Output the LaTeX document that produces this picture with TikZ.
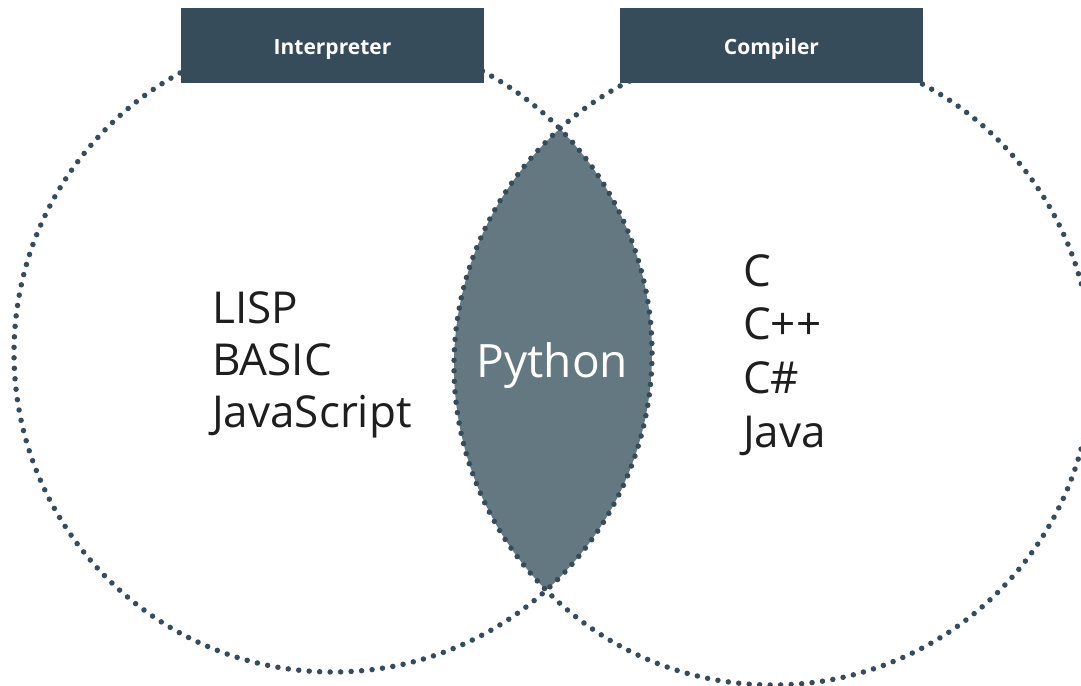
\documentclass[tikz,border=0pt]{standalone}
\usepackage{fontspec}
\setmainfont{Open Sans}
\definecolor{slate}{HTML}{374C5B}
\definecolor{lensfill}{HTML}{647882}
\definecolor{ink}{HTML}{1E1E1E}
% header label, set a little below the box centre
\newcommand{\tablabel}[1]{\raisebox{-4pt}[\height][\depth]{#1}}
\begin{document}
\begin{tikzpicture}[x=1pt,y=-1pt,
  ring/.style={draw=slate,line width=5.5pt,line cap=round,dash pattern=on 0pt off 10.5pt},
  tab/.style={fill=slate,minimum width=303pt,minimum height=75pt,inner sep=0pt,
    text=white,font=\fontsize{21}{24}\selectfont\bfseries},
  item/.style={anchor=base west,inner sep=0pt,text=ink,font=\fontsize{44}{52}\selectfont}]
  \useasboundingbox (0,0) rectangle (1081,685);
  % the two sets
  \coordinate (cl) at (333,353);
  \coordinate (cr) at (773,366);
  % shared region
  \begin{scope}
    \clip (cl) circle[radius=319];
    \fill[lensfill] (cr) circle[radius=319];
  \end{scope}
  \draw[ring] (cl) circle[radius=319];
  \draw[ring] (cr) circle[radius=319];
  % headers
  \node[tab] (interp) at (332.5,45.5) {\tablabel{Interpreter}};
  \node[tab] (comp) at (771.5,45.5) {\tablabel{Compiler}};
  % left-only languages
  \node[item] (lisp) at (212,323) {LISP};
  \node[item] (basic) at (212,375) {BASIC};
  \node[item] (js) at (212,427) {JavaScript};
  % both
  \node[anchor=base,inner sep=0pt,text=white,font=\fontsize{46}{52}\selectfont] (py) at (552.5,377) {Python};
  % right-only languages
  \node[item] (c) at (743,286) {C};
  \node[item] (cpp) at (743,339) {C++};
  \node[item] (cs) at (743,393) {C\#};
  \node[item] (java) at (743,447) {Java};
\end{tikzpicture}
\end{document}
